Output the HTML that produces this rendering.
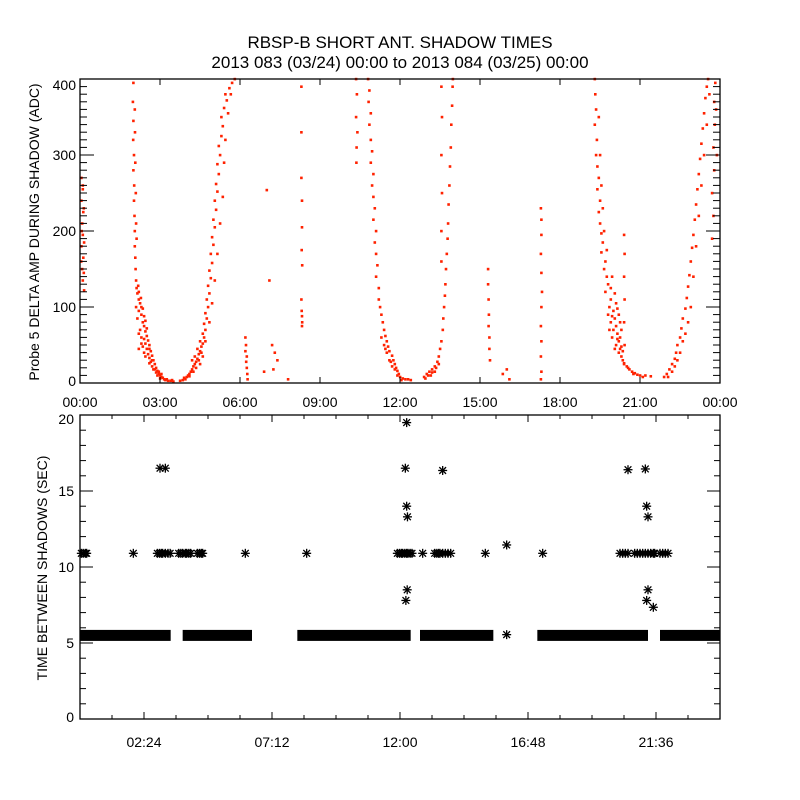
<!DOCTYPE html>
<html><head><meta charset="utf-8">
<style>
html,body{margin:0;padding:0;background:#fff;}
svg{display:block;}
text{font-family:"Liberation Sans","DejaVu Sans",sans-serif;fill:#000;}
</style></head>
<body>
<svg id="chart" width="800" height="800" viewBox="0 0 800 800" xmlns="http://www.w3.org/2000/svg">
<rect x="0" y="0" width="800" height="800" fill="#fff"/>
<text x="400" y="48" font-size="17" text-anchor="middle">RBSP-B SHORT ANT. SHADOW TIMES</text>
<text x="400" y="68" font-size="17" text-anchor="middle">2013 083 (03/24) 00:00 to 2013 084 (03/25) 00:00</text>
<g id="top"></g>
<g id="bot"></g>
<text transform="translate(39,232) rotate(-90)" font-size="14" text-anchor="middle">Probe 5 DELTA AMP DURING SHADOW (ADC)</text>
<text transform="translate(47,568) rotate(-90)" font-size="14" text-anchor="middle">TIME BETWEEN SHADOWS (SEC)</text>
</svg>
<script>
// ---- top panel data: [hour, amplitude] ----
const edgeDots=[[0.05,270],[0.1,255],[0.05,240],[0.12,225],[0.08,210],[0.1,195],[0.05,180],[0.12,165],[0.08,150],[0.1,135],[0.15,122],[0.1,260],[0.14,230],[0.06,200],[0.15,185],[0.04,160],[0.14,145]];
const curve1=[[2.0,395],[1.98,370],[2.0,345],[1.99,320],[2.02,300],[2.0,280],[2.03,260],[2.02,240],[2.04,220],[2.05,200],[2.05,180],[2.07,165],[2.08,150],[2.1,135],[2.12,125],[2.15,118],[2.2,110],[2.25,105],[2.1,100],[2.2,95],[2.3,90],[2.15,85],[2.35,80],[2.4,75],[2.25,70],[2.45,68],[2.5,62],[2.3,60],[2.55,56],[2.45,52],[2.6,50],[2.35,48],[2.5,45],[2.65,42],[2.4,40],[2.55,38],[2.7,36],[2.6,33],[2.75,30],[2.65,28],[2.8,25],[2.7,22],[2.85,20],[2.75,18],[2.9,16],[2.85,14],[2.95,12],[3.0,10],[2.9,10],[3.05,8],[3.1,7],[3.15,5],[3.2,4],[3.3,3],[3.4,3],[3.5,2],[2.2,120],[2.3,100],[2.4,88],[2.5,72],[2.4,58],[2.6,45],[2.7,30],[2.8,18],[3.0,6],[2.05,360],[2.06,330],[2.07,290],[2.09,250],[2.1,210],[2.12,190],[2.18,128],[2.28,112],[2.35,98],[2.45,82],[2.2,65],[2.3,52],[2.2,45],[2.45,35],[2.6,26],[2.95,15],[3.05,12],[3.25,5],[3.45,4]];
const curve2=[[3.75,3],[3.85,4],[3.95,5],[4.0,8],[4.05,10],[4.1,12],[4.15,15],[4.2,18],[4.25,22],[4.3,25],[4.35,28],[4.2,30],[4.4,32],[4.3,35],[4.45,38],[4.5,42],[4.4,45],[4.55,48],[4.6,52],[4.5,55],[4.65,60],[4.6,65],[4.7,70],[4.65,78],[4.75,85],[4.7,92],[4.8,100],[4.75,110],[4.85,118],[4.8,128],[4.9,138],[4.85,148],[4.95,158],[4.9,170],[5.0,182],[4.95,192],[5.05,205],[5.0,215],[5.1,228],[5.05,240],[5.15,252],[5.1,262],[5.2,275],[5.15,288],[5.25,300],[5.2,312],[5.3,325],[5.35,338],[5.3,350],[5.4,362],[5.5,372],[5.45,380],[5.6,388],[5.7,395],[5.8,400],[4.25,15],[4.35,20],[4.45,30],[4.55,40],[4.7,55],[4.85,80],[4.95,105],[5.05,135],[5.15,170],[5.25,210],[5.35,245],[5.4,290],[5.45,320],[5.55,355],[5.65,380],[3.9,7],[4.1,9],[4.5,25],[4.6,35]];
const spike6=[[6.2,60],[6.22,50],[6.2,42],[6.25,35],[6.23,28],[6.25,20],[6.27,12],[6.28,5]];
const miscDots=[[7.0,254],[7.1,135],[7.2,50],[7.3,40],[7.4,30],[7.25,18],[7.8,5],[6.9,15]];
const line8=[[8.3,390],[8.3,330],[8.3,270],[8.32,240],[8.32,205],[8.31,175],[8.33,155],[8.3,110],[8.31,95],[8.32,88],[8.33,80],[8.32,75]];
const curve3a=[[10.35,400],[10.38,380],[10.35,350],[10.4,330],[10.37,310],[10.36,290]];
const curve3=[[10.8,400],[10.85,385],[10.82,370],[10.9,355],[10.85,340],[10.9,320],[10.95,305],[10.9,290],[11.0,275],[10.95,260],[11.0,245],[11.05,230],[11.0,215],[11.1,200],[11.05,185],[11.1,170],[11.15,155],[11.1,140],[11.2,125],[11.2,110],[11.25,100],[11.3,90],[11.35,80],[11.4,70],[11.45,62],[11.5,55],[11.55,48],[11.6,42],[11.7,36],[11.75,30],[11.8,25],[11.85,20],[11.9,16],[11.95,12],[12.0,8],[12.1,6],[12.2,5],[12.3,5],[12.4,4],[11.4,50],[11.5,40],[11.6,30],[11.7,22],[11.3,60],[11.45,45],[11.65,28],[11.8,18],[11.9,10],[12.05,4]];
const curve4=[[12.9,8],[13.0,12],[13.1,15],[13.2,18],[13.3,22],[13.4,28],[13.45,35],[13.5,45],[13.55,55],[13.6,70],[13.62,85],[13.65,100],[13.68,115],[13.7,130],[13.72,150],[13.75,170],[13.78,190],[13.8,210],[13.82,235],[13.85,260],[13.87,285],[13.9,310],[13.92,340],[13.95,365],[13.97,390],[13.98,400],[13.55,160],[13.55,200],[13.57,250],[13.55,300],[13.57,350],[13.55,390],[13.05,10],[13.2,14],[13.35,20],[12.95,6],[13.15,10],[13.3,15],[13.45,25]];
const spike15=[[15.3,150],[15.3,130],[15.32,110],[15.33,90],[15.32,75],[15.35,60],[15.35,45],[15.37,30],[16.0,18],[15.85,12],[16.1,5]];
const spike17=[[17.28,230],[17.3,215],[17.3,195],[17.28,170],[17.3,145],[17.32,120],[17.3,100],[17.28,75],[17.3,55],[17.28,35],[17.3,15],[17.28,5]];
const curve5=[[19.3,400],[19.32,380],[19.35,360],[19.3,340],[19.38,320],[19.35,300],[19.4,285],[19.45,270],[19.4,255],[19.5,240],[19.45,225],[19.5,210],[19.55,197],[19.6,185],[19.55,172],[19.7,160],[19.65,150],[19.75,140],[19.8,130],[19.7,120],[19.9,110],[19.85,100],[20.0,95],[19.8,90],[20.05,85],[19.9,80],[20.1,75],[20.0,70],[20.15,65],[19.95,60],[20.2,55],[20.1,50],[20.25,45],[20.2,40],[20.3,35],[20.35,30],[20.4,26],[20.5,22],[20.6,18],[20.7,15],[20.8,13],[20.9,11],[21.0,10],[21.2,10],[21.4,9],[19.9,125],[20.1,105],[20.2,90],[20.3,70],[20.25,60],[20.3,48],[19.85,70],[20.05,45],[19.45,350],[19.5,300],[19.55,260],[19.6,230],[19.65,200],[19.75,175],[19.95,140],[20.05,118],[20.15,98],[20.25,80],[19.95,88],[20.15,58],[20.35,42],[20.55,20],[20.75,12],[21.1,8]];
const spike20=[[20.4,195],[20.42,170],[20.4,140],[20.42,110],[20.4,80],[20.42,50],[20.4,25]];
const curve6=[[21.9,8],[22.0,12],[22.1,18],[22.2,25],[22.3,32],[22.35,40],[22.4,50],[22.5,60],[22.55,72],[22.6,85],[22.7,98],[22.75,112],[22.8,127],[22.85,142],[22.9,160],[22.95,178],[23.0,195],[23.05,215],[23.1,235],[23.15,255],[23.2,275],[23.25,295],[23.3,315],[23.35,335],[23.4,355],[23.45,375],[23.5,390],[23.55,400],[22.2,15],[22.4,30],[22.6,55],[22.8,80],[22.05,8],[22.3,22],[22.5,40],[22.7,65],[22.9,100],[23.0,140],[23.1,180],[23.2,220],[23.3,260],[23.4,300],[23.5,340],[23.6,380]];
const curve6b=[[23.7,190],[23.75,220],[23.7,250],[23.78,280],[23.75,310],[23.8,340],[23.78,370],[23.82,395],[23.85,360],[23.88,300]];
const topSeries=[edgeDots,curve1,curve2,spike6,miscDots,line8,curve3a,curve3,curve4,spike15,spike17,curve5,spike20,curve6,curve6b];
const topXLabels=["00:00","03:00","06:00","09:00","12:00","15:00","18:00","21:00","00:00"];
const topYLabels=["0","100","200","300","400"];

// ---- bottom panel data ----
const bandSegments=[[0,3.4],[3.85,6.45],[8.15,12.4],[12.75,15.5],[17.15,21.3],[21.75,24]];
const bandValue=5.5;
const outlierHours=[0.05,0.12,0.2,0.25,2.0,2.9,2.98,3.05,3.1,3.2,3.3,3.38,3.7,3.78,3.85,3.95,4.0,4.08,4.15,4.4,4.48,4.55,4.6,6.2,8.5,11.9,11.98,12.05,12.1,12.18,12.25,12.3,12.38,12.45,12.85,13.3,13.38,13.45,13.5,13.6,13.7,13.8,13.9,15.2,17.35,20.25,20.35,20.45,20.55,20.8,20.9,21.0,21.1,21.2,21.3,21.4,21.5,21.55,21.75,21.85,21.95,22.05,3.0,3.2,12.25,12.2,13.6,12.25,12.28,16.0,12.27,12.22,20.55,21.2,21.25,21.3,21.3,21.25,21.5,16.0];
const outlierValues=[10.9,10.9,10.9,10.9,10.9,10.9,10.9,10.9,10.9,10.9,10.9,10.9,10.9,10.9,10.9,10.9,10.9,10.9,10.9,10.9,10.9,10.9,10.9,10.9,10.9,10.9,10.9,10.9,10.9,10.9,10.9,10.9,10.9,10.9,10.9,10.9,10.9,10.9,10.9,10.9,10.9,10.9,10.9,10.9,10.9,10.9,10.9,10.9,10.9,10.9,10.9,10.9,10.9,10.9,10.9,10.9,10.9,10.9,10.9,10.9,10.9,10.9,16.5,16.5,19.5,16.5,16.35,14.0,13.3,11.45,8.5,7.8,16.4,16.45,14.0,13.3,8.5,7.8,7.35,5.55];
const botXLabels=["02:24","07:12","12:00","16:48","21:36"];
const botYLabels=["0","5","10","15","20"];

const NS="http://www.w3.org/2000/svg";
function mk(tag,attrs,parent){const e=document.createElementNS(NS,tag);for(const k in attrs)e.setAttribute(k,attrs[k]);parent.appendChild(e);return e;}
const L=80,R=720;
const xS=h=>L+h/24*(R-L);
const TT=79,TB=383;
const yT=v=>TB-v/400*(TB-TT);
const gT=document.getElementById('top');
const gB=document.getElementById('bot');
for(const s of topSeries){for(const p of s){
  const r=mk('rect',{x:(xS(p[0])-1.2).toFixed(1),y:(yT(p[1])-1.2).toFixed(1),width:2.6,height:2.6,fill:'#ff2200'},gT);
  
  
}}
const ft=mk('rect',{x:L,y:TT,width:R-L,height:TB-TT,fill:'none',stroke:'#000','stroke-width':1.3},gT);


for(let v=0;v<=400;v+=10){const y=yT(v);const len=(v%100===0)?14:7;
  mk('line',{x1:L,x2:L+len,y1:y,y2:y,stroke:'#000'},gT);mk('line',{x1:R,x2:R-len,y1:y,y2:y,stroke:'#000'},gT);}
topYLabels.forEach((t,i)=>{const v=i*100;let y=yT(v)+5;if(v===0)y-=2;if(v===400)y+=6;
  const e=mk('text',{x:L-4,y:y,'font-size':14,'text-anchor':'end'},gT);e.textContent=t;
  
  });
topXLabels.forEach((t,i)=>{const x=xS(i*3);
  mk('line',{x1:x,x2:x,y1:TB,y2:TB-6,stroke:'#000'},gT);mk('line',{x1:x,x2:x,y1:TT,y2:TT+6,stroke:'#000'},gT);
  const e=mk('text',{x:x,y:407,'font-size':14,'text-anchor':'middle'},gT);e.textContent=t;
  
  });
const BT=415,BB=719;
const yB=v=>BB-v/20*(BB-BT);
function star(cx,cy,r,parent){const g=mk('g',{stroke:'#000','stroke-width':1.3},parent);
  mk('line',{x1:cx-r,x2:cx+r,y1:cy,y2:cy},g);mk('line',{x1:cx,x2:cx,y1:cy-r,y2:cy+r},g);
  const d=r*0.75;mk('line',{x1:cx-d,x2:cx+d,y1:cy-d,y2:cy+d},g);mk('line',{x1:cx-d,x2:cx+d,y1:cy+d,y2:cy-d},g);return g;}
bandSegments.forEach(s=>{
  const r=mk('rect',{x:xS(s[0]),y:yB(bandValue)-5.5,width:xS(s[1])-xS(s[0]),height:11,fill:'#000'},gB);
  
  });
outlierHours.forEach((h,i)=>{const g=star(xS(h),yB(outlierValues[i]),4.5,gB);
  
  });
const fb=mk('rect',{x:L,y:BT,width:R-L,height:BB-BT,fill:'none',stroke:'#000','stroke-width':1.3},gB);


for(let v=0;v<=20;v++){const y=yB(v);const len=(v%5===0)?13:6;
  mk('line',{x1:L,x2:L+len,y1:y,y2:y,stroke:'#000'},gB);mk('line',{x1:R,x2:R-len,y1:y,y2:y,stroke:'#000'},gB);}
botYLabels.forEach((t,i)=>{const v=i*5;let y=yB(v)+5;if(v===0)y-=2;if(v===20)y+=4;
  const e=mk('text',{x:L-6,y:y,'font-size':14,'text-anchor':'end'},gB);e.textContent=t;
  
  });
for(let k=1;k<20;k++){const x=xS(k*1.2);const len=(k%4===2)?7:4;
  mk('line',{x1:x,x2:x,y1:BB,y2:BB-len,stroke:'#000'},gB);mk('line',{x1:x,x2:x,y1:BT,y2:BT+len,stroke:'#000'},gB);}
botXLabels.forEach((t,i)=>{const x=xS(2.4+i*4.8);
  const e=mk('text',{x:x,y:747,'font-size':14,'text-anchor':'middle'},gB);e.textContent=t;
  
  });
</script>
</body></html>
